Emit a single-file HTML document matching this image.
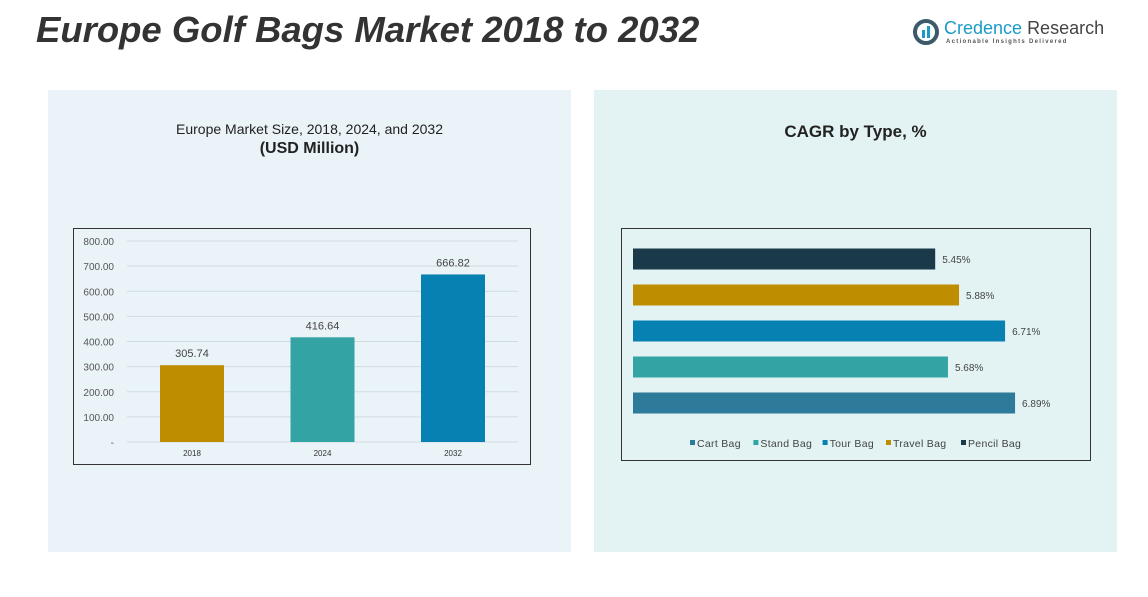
<!DOCTYPE html>
<html><head><meta charset="utf-8"><style>
body{margin:0;width:1148px;height:597px;background:#fff;font-family:"Liberation Sans",sans-serif;overflow:hidden;position:relative}
.abs{position:absolute}
</style></head><body>
<div class="abs" style="left:36px;top:9px;font-size:36.5px;font-weight:bold;font-style:italic;color:#333">Europe Golf Bags Market 2018 to 2032</div>
<div class="abs" style="left:912px;top:18px;width:190px;height:30px">
 <svg width="28" height="28" style="position:absolute;left:0;top:0"><circle cx="14" cy="14" r="11" fill="none" stroke="#3c5a6a" stroke-width="4"/><rect x="10" y="12" width="3" height="8" fill="#1a9bc7"/><rect x="15" y="8" width="3" height="12" fill="#1a9bc7"/></svg>
 <div class="abs" style="left:32px;top:0;font-size:18px;color:#1a9bc7;white-space:nowrap">Credence <span style="color:#444">Research</span></div>
 <div class="abs" style="left:34px;top:21px;font-size:6px;color:#555;letter-spacing:1.3px;white-space:nowrap;font-weight:bold">Actionable Insights Delivered</div>
</div>
<div class="abs" style="left:48px;top:90px;width:523px;height:462px;background:#eaf3f8"></div>
<div class="abs" style="left:594px;top:90px;width:523px;height:462px;background:#e3f3f3"></div>
<div class="abs" style="left:48px;top:121px;width:523px;text-align:center;font-size:14px;color:#222">Europe Market Size, 2018, 2024, and 2032<br><b style="font-size:16px;line-height:24px">(USD Million)</b></div>
<div class="abs" style="left:594px;top:122px;width:523px;text-align:center;font-size:17px;font-weight:bold;color:#222">CAGR by Type, %</div>
<svg class="abs" style="left:0;top:0" width="1148" height="597" id="svg"></svg>
<script>
const years=["2018","2024","2032"];
const sizes=[305.74,416.64,666.82];
const yTicks=[0,100,200,300,400,500,600,700,800];
const types=["Pencil Bag","Travel Bag","Tour Bag","Stand Bag","Cart Bag"];
const cagr=[5.45,5.88,6.71,5.68,6.89];
const legendOrder=["Cart Bag","Stand Bag","Tour Bag","Travel Bag","Pencil Bag"];
const colors={"Cart Bag":"#2e7a9a","Stand Bag":"#33a3a3","Tour Bag":"#0780b2","Travel Bag":"#bf8d00","Pencil Bag":"#1a3a4a"};
const yearColors=["#bf8d00","#33a3a3","#0780b2"];
const svg=document.getElementById('svg');const NS="http://www.w3.org/2000/svg";
function el(t,a,txt){const e=document.createElementNS(NS,t);for(const k in a)e.setAttribute(k,a[k]);if(txt!=null)e.textContent=txt;svg.appendChild(e);return e;}
let r=el('rect',{x:73.5,y:228.5,width:457,height:236,fill:"none",stroke:"#333","stroke-width":1});

const y=v=>442-v*(201/800);
yTicks.forEach(t=>{
 const g=el('line',{x1:127,x2:518,y1:y(t),y2:y(t),stroke:"#d0dbe0","stroke-width":1});
 
 const l=el('text',{x:114,y:y(t)+4,"text-anchor":"end","font-size":10,fill:"#555"},t===0?"-":t.toFixed(2));
 
});
const xc=i=>192+i*130.5;
years.forEach((yr,i)=>{
 const b=el('rect',{x:xc(i)-32,y:y(sizes[i]),width:64,height:442-y(sizes[i]),fill:yearColors[i]});
 
 const v=el('text',{x:xc(i),y:y(sizes[i])-8,"text-anchor":"middle","font-size":11,fill:"#444"},sizes[i].toFixed(2));
 
 const xl=el('text',{x:xc(i),y:456,"text-anchor":"middle","font-size":8,fill:"#333"},yr);
 
});
let r2=el('rect',{x:621.5,y:228.5,width:469,height:232,fill:"none",stroke:"#333","stroke-width":1});

const hx=v=>633+v*55.45;
types.forEach((t,i)=>{
 const cy=259+i*36;
 const b=el('rect',{x:633,y:cy-10.5,width:hx(cagr[i])-633,height:21,fill:colors[t]});
 
 const v=el('text',{x:hx(cagr[i])+7,y:cy+4,"font-size":10,fill:"#444"},cagr[i].toFixed(2)+"%");
 
});
let lx=690;
legendOrder.forEach(t=>{
 const s=el('rect',{x:lx,y:440,width:5,height:5,fill:colors[t]});
 
 const tx=el('text',{x:lx+7,y:447,"font-size":10.5,fill:"#444","letter-spacing":"0.3"},t);
 
 lx+=7+t.length*5.8+10;
});
</script>
</body></html>
